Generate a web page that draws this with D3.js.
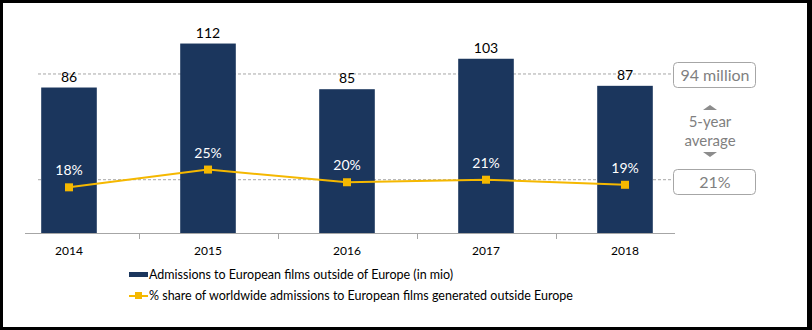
<!DOCTYPE html>
<html>
<head>
<meta charset="utf-8">
<script src="https://cdn.jsdelivr.net/npm/d3@7"></script>
<style>
  html, body { margin: 0; padding: 0; background: #fff; }
  svg { display: block; font-family: Lato, "Open Sans", sans-serif; }
</style>
</head>
<body>
<div id="chart"></div>
<script>
// admissions to European films outside Europe, 2014-2018
const years = ["2014", "2015", "2016", "2017", "2018"]
const admissions = [86, 112, 85, 103, 87]          // million admissions
const shareOutside = [18, 25, 20, 21, 19]          // % of worldwide admissions
const avgAdmissions = 94
const avgShare = 21
const legendLabels = [
  "Admissions to European films outside of Europe (in mio)",
  "% share of worldwide admissions to European films generated outside Europe"
]

const width = 812, height = 330
const barColor = "#1b365d", lineColor = "#f5b800", greyText = "#7f7f7f"

const svg = d3.select("#chart").append("svg")
  .attr("width", width)
  .attr("height", height)

// black frame
svg.append("rect").attr("width", width).attr("height", height).attr("fill", "#000")
svg.append("rect").attr("x", 3).attr("y", 3).attr("width", width - 8).attr("height", height - 6).attr("fill", "#fff")

// scales
const x = d3.scaleBand().domain(years).range([-0.5, 694.5]).paddingInner(0.6).paddingOuter(0.3)
const y = d3.scaleLinear().domain([0, 120]).range([233, 30])
const y2 = d3.scaleLinear().domain([0, 80]).range([233, 30])
const cx = d => x(d) + x.bandwidth() / 2

// average reference lines (behind bars)
const refLeft = 38, refRight = 673
svg.append("g")
  .selectAll("line")
  .data([y(avgAdmissions), y2(avgShare)])
  .join("line")
  .attr("x1", refLeft).attr("x2", refRight)
  .attr("y1", d => d).attr("y2", d => d)
  .attr("stroke", "#a6a6a6")
  .attr("stroke-width", 1)
  .attr("stroke-dasharray", "3,2")

// bars
svg.append("g")
  .selectAll("rect")
  .data(years)
  .join("rect")
  .attr("x", d => x(d))
  .attr("width", x.bandwidth())
  .attr("y", (d, i) => y(admissions[i]))
  .attr("height", (d, i) => y(0) - y(admissions[i]))
  .attr("fill", barColor)

// bar value labels
svg.append("g")
  .selectAll("text")
  .data(years)
  .join("text")
  .attr("x", d => cx(d))
  .attr("y", (d, i) => y(admissions[i]) - 6)
  .attr("text-anchor", "middle")
  .style("font-size", "14px")
  .attr("fill", "#000")
  .text((d, i) => admissions[i])

// x axis: baseline plus ticks between categories
const axis = svg.append("g")
axis.append("line")
  .attr("x1", 25).attr("x2", 675)
  .attr("y1", y(0) + 0.5).attr("y2", y(0) + 0.5)
  .attr("stroke", "#a6a6a6")
axis.selectAll("line.tick")
  .data(years.slice(1))
  .join("line")
  .attr("class", "tick")
  .attr("x1", d => Math.round(x(d) - x.step() * x.paddingInner() / 2) + 0.5)
  .attr("x2", d => Math.round(x(d) - x.step() * x.paddingInner() / 2) + 0.5)
  .attr("y1", y(0)).attr("y2", y(0) + 6)
  .attr("stroke", "#a6a6a6")
axis.selectAll("text")
  .data(years)
  .join("text")
  .attr("x", d => cx(d))
  .attr("y", 255)
  .attr("text-anchor", "middle")
  .style("font-size", "12px")
  .attr("fill", "#000")
  .text(d => d)

// share line with square markers
const line = d3.line()
  .x((d, i) => cx(years[i]))
  .y(d => y2(d))
svg.append("path")
  .datum(shareOutside)
  .attr("d", line)
  .attr("fill", "none")
  .attr("stroke", lineColor)
  .attr("stroke-width", 2)
svg.append("g")
  .selectAll("rect")
  .data(shareOutside)
  .join("rect")
  .attr("x", (d, i) => cx(years[i]) - 4)
  .attr("y", d => y2(d) - 4)
  .attr("width", 8).attr("height", 8)
  .attr("fill", lineColor)
svg.append("g")
  .selectAll("text")
  .data(shareOutside)
  .join("text")
  .attr("x", (d, i) => cx(years[i]))
  .attr("y", d => y2(d) - 12)
  .attr("text-anchor", "middle")
  .style("font-size", "14px")
  .attr("fill", "#fff")
  .text(d => d + "%")

// 5-year average boxes on the right
const boxX = 673, boxW = 82, boxH = 25
const boxes = [
  { value: avgAdmissions + " million", cy: y(avgAdmissions) + 1 },
  { value: avgShare + "%", cy: y2(avgShare) + 2 }
]
const box = svg.append("g").selectAll("g").data(boxes).join("g")
box.append("rect")
  .attr("x", boxX + 0.5).attr("y", d => Math.round(d.cy - boxH / 2) + 0.5)
  .attr("width", boxW).attr("height", boxH)
  .attr("rx", 4)
  .attr("fill", "#fff")
  .attr("stroke", "#a6a6a6")
box.append("text")
  .attr("x", boxX + boxW / 2 + 1)
  .attr("y", d => d.cy + 6)
  .attr("text-anchor", "middle")
  .style("font-size", "16px")
  .attr("fill", greyText)
  .text(d => d.value)

const midX = 710
svg.append("path")
  .attr("d", `M${midX - 7},110 L${midX + 7},110 L${midX},105 Z`)
  .attr("fill", "#8c8c8c")
svg.append("path")
  .attr("d", `M${midX - 7},152 L${midX + 7},152 L${midX},157 Z`)
  .attr("fill", "#8c8c8c")
svg.append("text")
  .attr("x", midX).attr("y", 127)
  .attr("text-anchor", "middle")
  .style("font-size", "15px")
  .attr("fill", greyText)
  .text("5-year")
svg.append("text")
  .attr("x", midX).attr("y", 146)
  .attr("text-anchor", "middle")
  .style("font-size", "15px")
  .attr("fill", greyText)
  .text("average")

// legend
const legend = svg.append("g").attr("transform", "translate(129,0)")
legend.append("rect")
  .attr("x", 0).attr("y", 272).attr("width", 19).attr("height", 5)
  .attr("fill", barColor)
legend.append("line")
  .attr("x1", 0).attr("x2", 19).attr("y1", 296).attr("y2", 296)
  .attr("stroke", lineColor).attr("stroke-width", 2)
legend.append("rect")
  .attr("x", 6).attr("y", 292).attr("width", 7).attr("height", 7)
  .attr("fill", lineColor)
legend.selectAll("text")
  .data(legendLabels)
  .join("text")
  .attr("x", 20)
  .attr("y", (d, i) => 279 + i * 21)
  .style("font-size", "12.5px")
  .attr("fill", "#000")
  .text(d => d)
</script>
</body>
</html>
